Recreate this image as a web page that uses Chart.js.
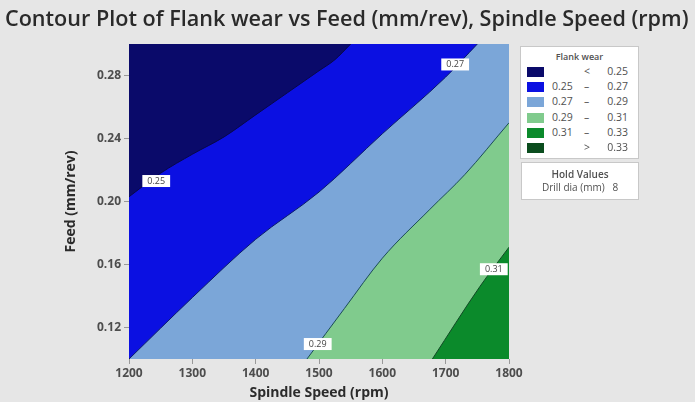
<!DOCTYPE html>
<html lang="en">

<head>
    <meta charset="UTF-8">
    <title>Contour Plot</title>
    <style>
        body {
            margin: 0;
            background: #e6e6e6;
            font-family: "Open Sans", sans-serif;
        }

        #wrap {
            position: relative;
            width: 695px;
            height: 402px;
            overflow: hidden;
        }

        #title {
            position: absolute;
            left: 5px;
            top: 6px;
            font-weight: 600;
            font-size: 18px;
            line-height: 24px;
            color: #2a2a2a;
            white-space: nowrap;
        }

        .box {
            position: absolute;
            background: #fff;
            border: 1px solid #c8c8c8;
            box-sizing: border-box;
            color: #505050;
        }

        #legend {
            left: 520px;
            top: 46px;
            width: 119px;
            height: 113px;
        }

        #legend .head {
            text-align: center;
            font-size: 9px;
            font-weight: 600;
            margin-top: 3px;
            height: 14px;
        }

        .row {
            position: relative;
            height: 15.2px;
            font-size: 10.5px;
            line-height: 15px;
        }

        .sw {
            position: absolute;
            left: 6px;
            top: 3px;
            width: 17px;
            height: 10px;
        }

        .lo {
            position: absolute;
            left: 31px;
        }

        .mid {
            position: absolute;
            left: 63px;
        }

        .hi {
            position: absolute;
            right: 10px;
        }

        #hold {
            left: 521px;
            top: 162px;
            width: 118px;
            height: 38px;
            font-size: 10px;
            text-align: center;
            line-height: 13px;
            padding-top: 5px;
        }
    </style>
</head>

<body>
    <div id="wrap">
        <canvas id="myChart" width="695" height="402"></canvas>
        <div id="title">Contour Plot of Flank wear vs Feed (mm/rev), Spindle Speed (rpm)</div>
        <div id="legend" class="box"></div>
        <div id="hold" class="box"><b style="font-weight:600">Hold Values</b><br>Drill dia (mm)&nbsp;&nbsp;&nbsp;8</div>
    </div>

    <script src="https://cdn.jsdelivr.net/npm/chart.js"></script>

    <script>
        // axis ticks
        const xTicks = [1200, 1300, 1400, 1500, 1600, 1700, 1800]
        const yTicks = [0.12, 0.16, 0.20, 0.24, 0.28]

        // contour lines (spindle speed, feed)
        const c025Speed = [1200, 1250, 1300, 1350, 1400, 1450, 1500, 1525, 1550]
        const c025Feed = [0.203, 0.218, 0.230, 0.241, 0.255, 0.269, 0.283, 0.290, 0.300]

        const c027Speed = [1200, 1300, 1400, 1500, 1600, 1700, 1750]
        const c027Feed = [0.100, 0.139, 0.176, 0.206, 0.243, 0.279, 0.300]

        const c029Speed = [1481, 1540, 1600, 1675, 1730, 1800]
        const c029Feed = [0.100, 0.132, 0.164, 0.195, 0.217, 0.250]

        const c031Speed = [1679, 1754, 1800]
        const c031Feed = [0.100, 0.146, 0.171]

        // contour labels
        const labelText = ["0.25", "0.27", "0.29", "0.31"]
        const labelSpeed = [1243, 1715, 1498, 1776]
        const labelFeed = [0.213, 0.287, 0.1095, 0.157]

        // legend
        const legendLow = ["", "0.25", "0.27", "0.29", "0.31", ""]
        const legendMid = ["<", "–", "–", "–", "–", ">"]
        const legendHigh = ["0.25", "0.27", "0.29", "0.31", "0.33", "0.33"]
        const colors = ["#0a0a6a", "#0b10e2", "#7ba6d8", "#80cb8d", "#0b8a2b", "#0b4d1e"]

        function pts(xs, ys) {
            return xs.map((x, i) => ({ x: x, y: ys[i] }))
        }

        // legend rows
        let legendHtml = '<div class="head">Flank wear</div>'
        for (let i = 0; i < legendHigh.length; i++) {
            legendHtml += '<div class="row"><span class="sw" style="background:' + colors[i] + '"></span>' +
                '<span class="lo">' + legendLow[i] + '</span><span class="mid">' + legendMid[i] +
                '</span><span class="hi">' + legendHigh[i] + '</span></div>'
        }
        document.getElementById("legend").innerHTML = legendHtml

        // fit title width
        const titleEl = document.getElementById("title")
        titleEl.style.fontSize = (18 * 684 / titleEl.offsetWidth) + "px"

        const labelPlugin = {
            id: "contourLabels",
            afterDatasetsDraw(chart) {
                const ctx = chart.ctx
                const xs = chart.scales.x
                const ys = chart.scales.y
                ctx.save()
                ctx.font = "9px 'Open Sans'"
                ctx.textAlign = "center"
                ctx.textBaseline = "middle"
                for (let i = 0; i < labelText.length; i++) {
                    const px = xs.getPixelForValue(labelSpeed[i])
                    const py = ys.getPixelForValue(labelFeed[i])
                    const w = ctx.measureText(labelText[i]).width + 10
                    ctx.fillStyle = "#fff"
                    ctx.fillRect(px - w / 2, py - 6, w, 12)
                    ctx.fillStyle = "#444"
                    ctx.fillText(labelText[i], px, py)
                }
                ctx.restore()
            }
        }

        const lineOpts = { pointRadius: 0, cubicInterpolationMode: "monotone", borderWidth: 1 }

        const myChart = new Chart(document.getElementById("myChart"), {
            type: "line",
            data: {
                datasets: [
                    { ...lineOpts, data: pts([1200, 1800], [0.30, 0.30]), fill: "start", backgroundColor: colors[2], borderWidth: 0, order: 10 },
                    { ...lineOpts, data: pts(c027Speed, c027Feed), fill: "end", backgroundColor: colors[1], borderColor: "#0a1a6a", order: 9 },
                    { ...lineOpts, data: pts(c025Speed, c025Feed), fill: "end", backgroundColor: colors[0], borderColor: "#07074a", order: 8 },
                    { ...lineOpts, data: pts(c029Speed, c029Feed), fill: "start", backgroundColor: colors[3], borderColor: "#1c4d57", order: 7 },
                    { ...lineOpts, data: pts(c031Speed, c031Feed), fill: "start", backgroundColor: colors[4], borderColor: "#114a25", order: 6 }
                ]
            },
            options: {
                responsive: false,
                animation: false,
                layout: { padding: { top: 44, right: 186, bottom: 0, left: 0 } },
                plugins: { legend: { display: false }, tooltip: { enabled: false } },
                scales: {
                    x: {
                        type: "linear",
                        min: 1200,
                        max: 1800,
                        afterBuildTicks: s => { s.ticks = xTicks.map(v => ({ value: v })) },
                        afterFit: s => { s.height = 43 },
                        grid: { drawOnChartArea: false, tickLength: 5, color: "#999" },
                        border: { display: false },
                        ticks: { color: "#4d4d4d", font: { family: "Open Sans", size: 12, weight: "bold" }, padding: 2, maxRotation: 0, callback: v => String(v) },
                        title: { display: true, text: "Spindle Speed (rpm)", color: "#2b2b2b", font: { family: "Open Sans", size: 14, weight: "bold" }, padding: { top: 0, bottom: 1 } }
                    },
                    y: {
                        min: 0.10,
                        max: 0.30,
                        afterBuildTicks: s => { s.ticks = yTicks.map(v => ({ value: v })) },
                        afterFit: s => { s.width = 129 },
                        grid: { drawOnChartArea: false, tickLength: 5, color: "#999" },
                        border: { display: false },
                        ticks: { color: "#4d4d4d", font: { family: "Open Sans", size: 12, weight: "bold" }, padding: 3, callback: v => v.toFixed(2) },
                        title: { display: true, text: "Feed (mm/rev)", color: "#2b2b2b", font: { family: "Open Sans", size: 14, weight: "bold" }, padding: { top: 63, bottom: 0 } }
                    }
                }
            },
            plugins: [labelPlugin]
        });
    </script>
</body>

</html>
